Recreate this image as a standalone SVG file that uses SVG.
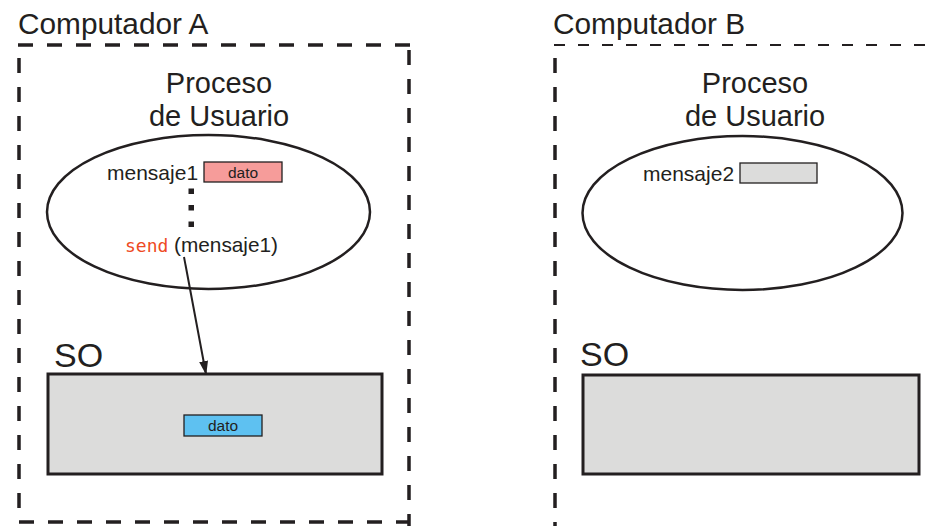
<svg xmlns="http://www.w3.org/2000/svg" width="934" height="526" viewBox="0 0 934 526">
<defs>
<style>
.t{font-family:"Liberation Sans",Arial,sans-serif;fill:#231f20}
.big{font-size:29px}
.ttl{font-size:29.8px}
.so{font-size:34px}
.med{font-size:21px}
.sm{font-size:15.5px}
.dash{fill:none;stroke:#231f20;stroke-width:3.5;stroke-dasharray:15 14}
.thin{fill:none;stroke:#231f20;stroke-width:2;stroke-dasharray:11 13}
.ell{fill:#fff;stroke:#231f20;stroke-width:2.5}
.os{fill:#dcdcdb;stroke:#231f20;stroke-width:3}
.box{stroke:#231f20;stroke-width:1.3}
</style>
<marker id="ah" markerWidth="14" markerHeight="10" refX="13" refY="5" orient="auto" markerUnits="userSpaceOnUse" viewBox="0 0 14 10">
<path d="M0,0.5 L14,5 L0,9.5 Z" fill="#231f20"/>
</marker>
</defs>
<rect width="934" height="526" fill="#fff"/>

<g id="computadorA">
<text class="t ttl" x="18" y="34">Computador A</text>
<path class="dash" d="M18,45 H410"/>
<path class="dash" d="M19,58 V522 H410"/>
<path class="dash" d="M409,50 V526"/>
</g>

<g id="procesoA">
<text class="t big" text-anchor="middle" x="219" y="93">Proceso</text>
<text class="t big" text-anchor="middle" x="219" y="126">de Usuario</text>
<ellipse class="ell" cx="208.5" cy="212" rx="161.5" ry="77"/>
<text class="t med" x="107" y="180">mensaje1</text>
<rect class="box" x="204" y="162" width="78" height="20" fill="#f69c9a"/>
<text class="t sm" text-anchor="middle" x="243" y="177.5">dato</text>
<rect x="188.5" y="188.5" width="5.5" height="5.5" fill="#231f20"/>
<rect x="188.5" y="205" width="5.5" height="5.5" fill="#231f20"/>
<rect x="188.5" y="221.5" width="5.5" height="5.5" fill="#231f20"/>
<text x="125" y="252" font-family="'DejaVu Sans Mono',monospace" font-size="18" fill="#ee4a23">send</text>
<text class="t" x="174" y="252" font-size="20.8">(mensaje1)</text>
</g>

<g id="soA">
<text class="t so" x="54" y="367">SO</text>
<rect class="os" x="48" y="374" width="334" height="100"/>
<rect class="box" x="184" y="415" width="78" height="21" fill="#5ec1f1"/>
<text class="t sm" text-anchor="middle" x="223" y="431">dato</text>
</g>

<g id="computadorB">
<text class="t ttl" x="553" y="34">Computador B</text>
<path class="thin" d="M554,45 H934"/>
<path class="dash" d="M555,58 V526"/>
</g>

<g id="procesoB">
<text class="t big" text-anchor="middle" x="755" y="93">Proceso</text>
<text class="t big" text-anchor="middle" x="755" y="126">de Usuario</text>
<ellipse class="ell" cx="742.5" cy="213" rx="160" ry="77"/>
<text class="t med" x="643" y="181">mensaje2</text>
<rect class="box" x="740" y="163" width="77" height="20" fill="#dcdcdb"/>
</g>

<g id="soB">
<text class="t so" x="580" y="366">SO</text>
<rect class="os" x="583" y="375" width="336" height="99"/>
</g>

<g id="connectors">
<line x1="184" y1="257" x2="206" y2="374" stroke="#231f20" stroke-width="2" marker-end="url(#ah)"/>
</g>
</svg>
